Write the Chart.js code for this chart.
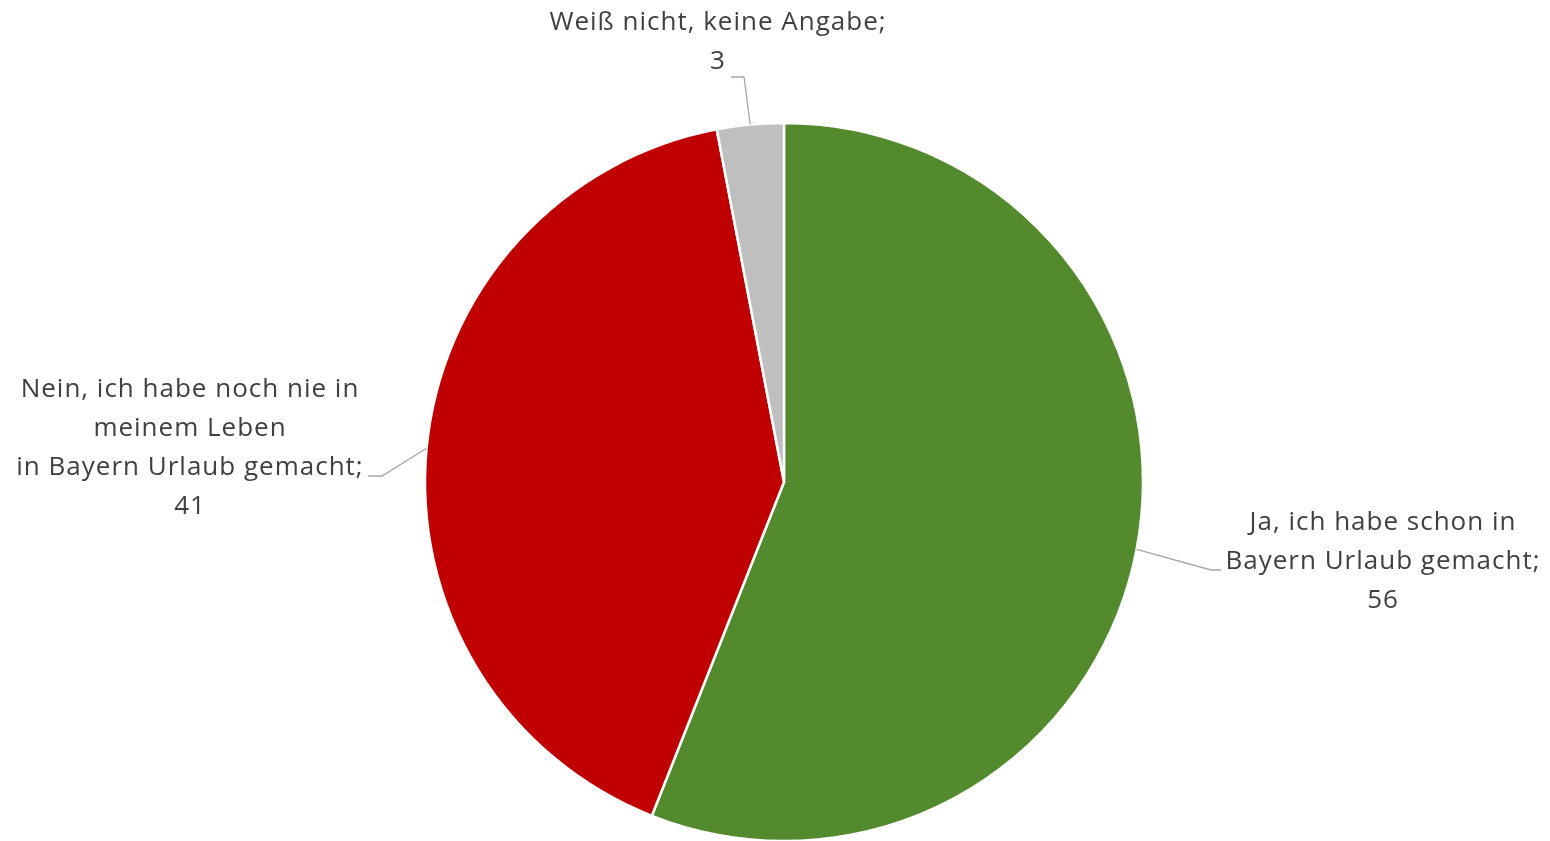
<!DOCTYPE html>
<html>
<head>
<meta charset="utf-8">
<script src="https://cdn.jsdelivr.net/npm/chart.js@4.4.0/dist/chart.umd.min.js"></script>
<style>
html,body{margin:0;padding:0;background:#fff;}
#wrap{width:1550px;height:841px;position:relative;}
</style>
</head>
<body>
<div id="wrap"><canvas id="c" width="1550" height="841"></canvas></div>
<script>
const categories = [
  "Ja, ich habe schon in Bayern Urlaub gemacht",
  "Nein, ich habe noch nie in meinem Leben in Bayern Urlaub gemacht",
  "Weiß nicht, keine Angabe"
];
const values = [56, 41, 3];
const colors = ["#548A2E", "#C00000", "#BFBFBF"];
const labelLines = [
  ["Ja, ich habe schon in", "Bayern Urlaub gemacht;", "56"],
  ["Nein, ich habe noch nie in", "meinem Leben", "in Bayern Urlaub gemacht;", "41"],
  ["Weiß nicht, keine Angabe;", "3"]
];

// layout of the labels (positions only)
const labelLayout = [
  {cx: 1383, y0: 523, elbow: [1211, 570], end: [1221, 570]},
  {cx: 190, y0: 390, elbow: [382, 476], end: [368, 476]},
  {cx: 718, y0: 23, elbow: [744, 77], end: [731, 77]}
];
const LINE_H = 38.7;

const labelPlugin = {
  id: 'calloutLabels',
  afterDatasetsDraw(chart) {
    const ctx = chart.ctx;
    const meta = chart.getDatasetMeta(0);
    ctx.save();
    meta.data.forEach((arc, i) => {
      const p = arc.getProps(['x','y','startAngle','endAngle','outerRadius'], true);
      const mid = (p.startAngle + p.endAngle) / 2;
      const sx = p.x + Math.cos(mid) * p.outerRadius;
      const sy = p.y + Math.sin(mid) * p.outerRadius;
      const L = labelLayout[i];
      ctx.strokeStyle = '#A6A6A6';
      ctx.lineWidth = 1.3;
      ctx.beginPath();
      ctx.moveTo(sx, sy);
      ctx.lineTo(L.elbow[0], L.elbow[1]);
      ctx.lineTo(L.end[0], L.end[1]);
      ctx.stroke();
      ctx.fillStyle = '#404040';
      ctx.font = '26px "Open Sans", Lato, sans-serif';
      ctx.letterSpacing = '1px';
      ctx.textAlign = 'center';
      ctx.textBaseline = 'middle';
      labelLines[i].forEach((t, k) => {
        ctx.fillText(t, L.cx, L.y0 + k * LINE_H);
      });
    });
    ctx.restore();
  }
};

new Chart(document.getElementById('c'), {
  type: 'pie',
  data: {
    labels: categories,
    datasets: [{
      data: values,
      backgroundColor: colors,
      borderColor: '#FFFFFF',
      borderWidth: 2.5,
      hoverOffset: 0,
      hoverBorderWidth: 2.5
    }]
  },
  options: {
    responsive: false,
    animation: false,
    radius: 359,
    layout: {padding: {top: 123, bottom: 0, left: 18, right: 0}},
    plugins: {
      legend: {display: false},
      tooltip: {enabled: false},
      title: {display: false}
    },
    events: []
  },
  plugins: [labelPlugin]
});
</script>
</body>
</html>
